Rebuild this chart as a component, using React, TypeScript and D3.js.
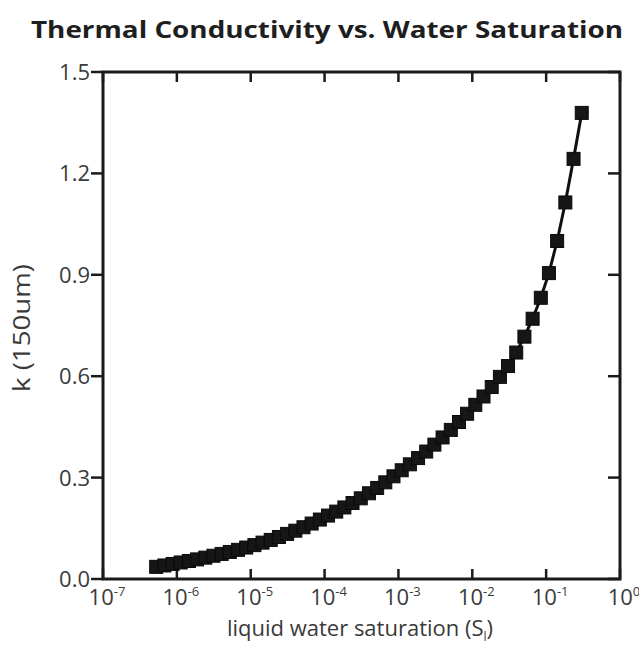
import React from "react";
import * as d3 from "d3";

const title = "Thermal Conductivity vs. Water Saturation";
const yLabel = "k (150um)";
const xTickExponents = [-7, -6, -5, -4, -3, -2, -1, 0];
const yTicks = [0.0, 0.3, 0.6, 0.9, 1.2, 1.5];

const saturation = [
  5.25e-7, 6.78e-7, 8.75e-7, 1.127e-6, 1.456e-6, 1.879e-6, 2.427e-6, 3.133e-6,
  4.04e-6, 5.21e-6, 6.73e-6, 8.69e-6, 1.122e-5, 1.445e-5, 1.866e-5, 2.41e-5,
  3.11e-5, 4.02e-5, 5.18e-5, 6.68e-5, 8.63e-5, 1.114e-4, 1.439e-4, 1.854e-4,
  2.39e-4, 3.09e-4, 3.99e-4, 5.15e-4, 6.64e-4, 8.57e-4, 1.107e-3, 1.429e-3,
  1.845e-3, 2.377e-3, 3.07e-3, 3.96e-3, 5.12e-3, 6.61e-3, 8.51e-3, 0.01099,
  0.01419, 0.01832, 0.02366, 0.03048, 0.03936, 0.0508, 0.0656, 0.0847, 0.1091,
  0.1409, 0.182, 0.235, 0.3034,
];

const conductivity = [
  0.036, 0.04, 0.0445, 0.0489, 0.0532, 0.058, 0.0632, 0.0688, 0.0742, 0.08,
  0.0863, 0.0931, 0.1002, 0.1076, 0.1156, 0.1242, 0.1334, 0.143, 0.1531, 0.1641,
  0.1759, 0.1877, 0.1994, 0.2117, 0.2248, 0.2387, 0.2536, 0.2694, 0.286, 0.3038,
  0.3217, 0.3393, 0.3578, 0.3771, 0.3976, 0.4188, 0.4411, 0.4645, 0.4889, 0.5153,
  0.54, 0.568, 0.598, 0.63, 0.67, 0.717, 0.77, 0.832, 0.905, 1.0, 1.114, 1.243,
  1.379,
];

const W = 639;
const H = 648;
const left = 103;
const right = 620;
const top = 72;
const bottom = 579;
const font = "'Open Sans', 'DejaVu Sans', sans-serif";

export default function App() {
  const x = d3.scaleLog().domain([1e-7, 1]).range([left, right]);
  const y = d3.scaleLinear().domain([0, 1.5]).range([bottom, top]);
  const pts = saturation.map((s, i) => [x(s), y(conductivity[i])] as [number, number]);
  const line = d3.line()(pts) || "";
  const ms = 13;
  const axisColor = "#1a1a1a";
  const labelColor = "#3a3a3a";

  return (
    <div style={{ position: "fixed", left: 0, top: 0 }}>
      <svg width={W} height={H} style={{ display: "block", background: "#fff" }}>
        <text
          x={327}
          y={38}
          textAnchor="middle"
          fontFamily={font}
          fontWeight={700}
          fontSize={24}
          fill="#1e1e1e"
          textLength={592}
          lengthAdjust="spacingAndGlyphs"
        >
          {title}
        </text>

        {xTickExponents.map((e) => {
          const xv = x(Math.pow(10, e));
          return (
            <g key={"xt" + e}>
              <line x1={xv} x2={xv} y1={bottom} y2={bottom - 10} stroke={axisColor} strokeWidth={2.5} />
              <line x1={xv} x2={xv} y1={top} y2={top + 10} stroke={axisColor} strokeWidth={2.5} />
              <text
                x={xv + 4}
                y={605}
                textAnchor="middle"
                fontFamily={font}
                fontSize={22}
                fill={labelColor}
              >
                10
                <tspan dy={-9} fontSize={13}>
                  {e === 0 ? "0" : String(e)}
                </tspan>
              </text>
            </g>
          );
        })}
        {yTicks.map((t) => {
          const yv = y(t);
          return (
            <g key={"yt" + t}>
              <line x1={left - 12} x2={left} y1={yv} y2={yv} stroke={axisColor} strokeWidth={2.5} />
              <line x1={right} x2={right - 12} y1={yv} y2={yv} stroke={axisColor} strokeWidth={2.5} />
              <text
                x={left - 13}
                y={yv + 8}
                textAnchor="end"
                fontFamily={font}
                fontSize={22}
                fill={labelColor}
              >
                {t.toFixed(1)}
              </text>
            </g>
          );
        })}

        <rect
          x={left}
          y={top}
          width={right - left}
          height={bottom - top}
          fill="none"
          stroke={axisColor}
          strokeWidth={3}
        />

        <path d={line} fill="none" stroke="#111" strokeWidth={3} />
        {pts.map((p, i) => (
          <rect
            key={i}
            x={p[0] - ms / 2}
            y={p[1] - ms / 2}
            width={ms}
            height={ms}
            fill="#161616"
            stroke="#0a0a0a"
            strokeWidth={1}
          />
        ))}

        <text
          transform={`translate(30, ${328}) rotate(-90)`}
          textAnchor="middle"
          fontFamily={font}
          fontSize={23}
          fill={labelColor}
          textLength={128}
          lengthAdjust="spacingAndGlyphs"
        >
          {yLabel}
        </text>
        <text x={360} y={636} textAnchor="middle" fontFamily={font} fontSize={22} fill={labelColor}>
          liquid water saturation (S
          <tspan dy={5} fontSize={12}>
            l
          </tspan>
          <tspan dy={-5}>)</tspan>
        </text>
      </svg>
    </div>
  );
}
